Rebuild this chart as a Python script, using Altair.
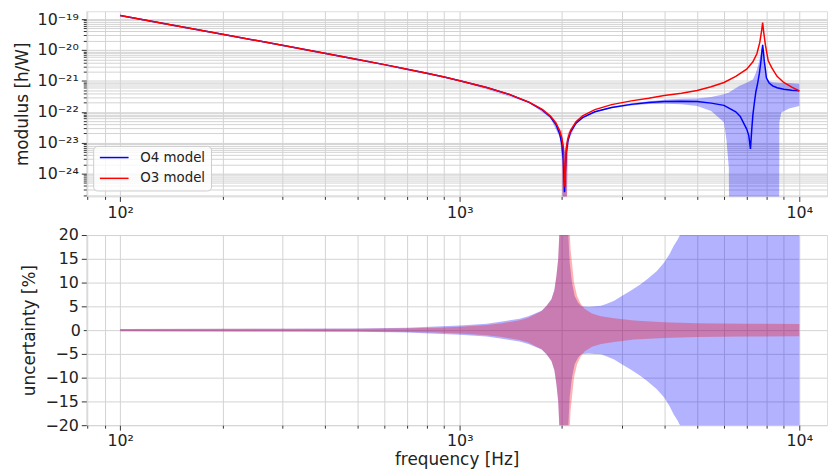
import altair as alt
import pandas as pd

FONT = "DejaVu Sans"

# ---------------- top panel: modulus [h/W] ----------------
o3_freq = [100, 150, 200, 300, 400, 500, 600, 700, 800, 900, 1000, 1200, 1400, 1600,
           1750, 1850, 1920, 1970, 2000, 2020, 2040, 2060, 2080, 2120, 2200, 2300,
           2500, 2800, 3200, 3600, 4000, 4500, 5000, 5500, 6000, 6500, 7000, 7300,
           7500, 7650, 7750, 7800, 7850, 7950, 8100, 8300, 8600, 9000, 9500, 10000]
o3_mod = [1.318e-19, 5.82e-20, 3.27e-20, 1.43e-20, 7.92e-21, 4.95e-21, 3.37e-21, 2.39e-21,
          1.76e-21, 1.33e-21, 1.02e-21, 6.14e-22, 3.68e-22, 2.07e-22, 1.20e-22, 7.24e-23,
          4.36e-23, 2.45e-23, 1.37e-23, 6.76e-24, 3.72e-25, 6.61e-24, 1.29e-23, 2.52e-23,
          4.80e-23, 7.41e-23, 1.18e-22, 1.71e-22, 2.26e-22, 2.73e-22, 3.39e-22, 3.98e-22,
          4.90e-22, 6.46e-22, 8.91e-22, 1.41e-21, 2.40e-21, 4.17e-21, 7.59e-21, 1.78e-20,
          4.47e-20, 7.76e-20, 3.98e-20, 1.41e-20, 4.47e-21, 2.63e-21, 1.41e-21, 8.91e-22,
          6.31e-22, 4.79e-22]

o4_freq = [100, 150, 200, 300, 400, 500, 600, 700, 800, 900, 1000, 1200, 1400, 1600,
           1750, 1850, 1920, 1970, 2000, 2020, 2035, 2050, 2060, 2080, 2120, 2200, 2300,
           2500, 2800, 3200, 3600, 4000, 4500, 5000, 5500, 6000, 6500, 6700, 7000, 7100,
           7180, 7245, 7300, 7375, 7450, 7544, 7630, 7710, 7760, 7800, 7840, 7887, 7950,
           8000, 8150, 8345, 8600, 9000, 9500, 10000]
o4_mod = [1.318e-19, 5.82e-20, 3.27e-20, 1.43e-20, 7.92e-21, 4.95e-21, 3.37e-21, 2.39e-21,
          1.76e-21, 1.33e-21, 1.02e-21, 6.12e-22, 3.62e-22, 2.02e-22, 1.15e-22, 6.76e-23,
          3.89e-23, 1.91e-23, 8.91e-24, 2.51e-24, 2.51e-25, 2.0e-24, 5.01e-24, 1.12e-23,
          2.24e-23, 4.27e-23, 6.46e-23, 1.0e-22, 1.38e-22, 1.74e-22, 2.0e-22, 2.14e-22,
          2.19e-22, 2.14e-22, 1.91e-22, 1.62e-22, 1.0e-22, 7.08e-23, 2.75e-23, 1.70e-23,
          6.31e-24, 2.75e-23, 7.94e-23, 2.0e-22, 4.47e-22, 8.71e-22, 1.78e-21, 4.37e-21,
          8.91e-21, 1.48e-20, 8.91e-21, 4.37e-21, 2.24e-21, 1.26e-21, 8.51e-22, 6.92e-22,
          6.03e-22, 5.37e-22, 5.01e-22, 4.79e-22]

# O4 uncertainty band on the modulus (lower edge below the axis where it is lost)
o4_band_freq = [100, 300, 1000, 1600, 1850, 1970, 2000, 2012, 2035, 2060, 2075, 2100,
                2200, 2300, 2500, 2800, 3200, 3600, 4000, 4500, 5000, 5500, 6000, 6100,
                6200, 6215, 6670, 7000, 7300, 7450, 7600, 7710, 7800, 7887, 8000, 8150,
                8345, 8720, 8735, 8850, 9330, 10000]
o4_band_lo = [1.315e-19, 1.426e-20, 1.01e-21, 1.96e-22, 6.33e-23, 1.51e-23, 3.5e-24, 1e-26,
              1e-26, 1e-26, 4e-24, 1.3e-23, 3.97e-23, 6.15e-23, 9.48e-23, 1.294e-22,
              1.60e-22, 1.79e-22, 1.84e-22, 1.75e-22, 1.55e-22, 1.07e-22, 4.57e-23,
              1.26e-23, 1.58e-24, 1e-26, 1e-26, 1e-26, 1e-26, 1e-26, 1e-26, 1e-26, 1e-26,
              1e-26, 1e-26, 1e-26, 1e-26, 1e-26, 4.57e-23, 9.55e-23, 1.29e-22, 1.55e-22]
o4_band_hi = [1.321e-19, 1.434e-20, 1.03e-21, 2.08e-22, 7.19e-23, 2.31e-23, 1.45e-23,
              1.1e-23, 5e-24, 9e-24, 1.3e-23, 2.0e-23, 4.57e-23, 6.77e-23, 1.052e-22,
              1.466e-22, 1.88e-22, 2.21e-22, 2.44e-22, 2.63e-22, 2.69e-22, 3.02e-22,
              3.72e-22, 3.98e-22, 4.17e-22, 4.27e-22, 6.92e-22, 8.71e-22, 1.12e-21,
              1.82e-21, 3.89e-21, 8.13e-21, 1.62e-20, 3.89e-21, 1.26e-21, 1.0e-21,
              9.12e-22, 8.71e-22, 8.71e-22, 8.71e-22, 8.5e-22, 8.13e-22]

# O3 uncertainty band on the modulus (only visible at the notch)
o3_band_freq = [1980, 2000, 2015, 2040, 2065, 2080, 2100]
o3_band_lo = [1.47e-23, 2.7e-24, 1e-26, 1e-26, 1e-26, 6e-24, 1.4e-23]
o3_band_hi = [2.73e-23, 2.47e-23, 1.2e-23, 1.5e-24, 1.2e-23, 2.0e-23, 2.4e-23]

# ---------------- bottom panel: uncertainty [%] (half width of the band) ----------------
o4_unc_freq = [100, 300, 500, 700, 851, 1000, 1200, 1332, 1500, 1592, 1742, 1800, 1862,
               1900, 1926, 1950, 1968, 2000, 2035, 2065, 2085, 2107, 2140, 2180, 2230,
               2280, 2400, 2500, 2606, 2700, 2850, 3000, 3187, 3400, 3563, 3800, 4000,
               4150, 4264, 4380, 4460, 4600, 5000, 6000, 7000, 8000, 9000, 10000]
o4_unc = [0.25, 0.27, 0.32, 0.5, 0.75, 0.97, 1.35, 1.8, 2.4, 2.9, 4.1, 5.1, 6.5, 8.5,
          11.4, 15, 21, 60, 250, 60, 21, 14.2, 10, 7.2, 5.8, 5.0, 4.9, 5.0, 5.1, 5.5,
          6.2, 7.2, 8.3, 9.6, 10.7, 12.4, 14.2, 16, 17.7, 19, 20.1, 22, 27, 75, 200,
          150, 85, 70]

o3_unc_freq = [100, 300, 500, 700, 851, 1000, 1200, 1332, 1500, 1592, 1742, 1800, 1862,
               1900, 1926, 1950, 1965, 2000, 2040, 2080, 2107, 2120, 2140, 2170, 2216,
               2270, 2330, 2450, 2606, 2850, 3260, 4000, 5000, 7000, 10000]
o3_unc = [0.25, 0.27, 0.3, 0.38, 0.48, 0.7, 1.1, 1.46, 2.1, 2.6, 4.0, 5.0, 6.5, 8.4,
          11.4, 15, 21, 80, 300, 50, 21, 17, 14.2, 10, 7.2, 5.6, 4.5, 3.5, 2.9, 2.5,
          2.0, 1.67, 1.46, 1.35, 1.3]

# ---------------- ticks ----------------
x_major = [100, 1000, 10000]
x_major_labels = ["10²", "10³", "10⁴"]
x_minor = [80, 90, 200, 300, 400, 500, 600, 700, 800, 900,
           2000, 3000, 4000, 5000, 6000, 7000, 8000, 9000]
y_major = [1e-24, 1e-23, 1e-22, 1e-21, 1e-20, 1e-19]
y_major_labels = ["10⁻²⁴", "10⁻²³", "10⁻²²", "10⁻²¹", "10⁻²⁰", "10⁻¹⁹"]
y_minor = [m * 10.0 ** e for e in range(-25, -19) for m in range(2, 10)]
u_ticks = [-20, -15, -10, -5, 0, 5, 10, 15, 20]

X_DOMAIN = [79.43, 12067]
Y_DOMAIN = [1.82e-25, 1.807e-19]
y_minor = [v for v in y_minor if Y_DOMAIN[0] <= v <= Y_DOMAIN[1]]


def major_test(vals):
    return " || ".join(f"abs(datum.value/{v!r}-1)<1e-6" for v in vals)


def label_expr(vals, labels):
    s = ""
    for v, l in zip(vals, labels):
        s += f"abs(datum.value/{v!r}-1)<1e-6 ? '{l}' : "
    return s + "''"


GRID = "#d2d2d2"
TICKC = "#333333"


def axis(values, majors, labels, title, tp=4):
    kw = dict(
        values=values,
        grid=True,
        gridColor=GRID,
        gridWidth=1,
        domain=False,
        tickColor=TICKC,
        tickSize={"condition": {"test": major_test(majors), "value": 5}, "value": 3},
        labelFont=FONT,
        labelFontSize=16,
        labelColor="#222222",
        labelOverlap=False,
        labelPadding=3,
        titleFont=FONT,
        titleFontSize=17,
        titleFontWeight="normal",
        titleColor="#222222",
        titlePadding=tp,
        title=title,
    )
    if labels is not None:
        kw["labelExpr"] = label_expr(majors, labels)
    return alt.Axis(**kw)


x_vals = sorted(x_major + x_minor)
y_vals = sorted(y_major + y_minor)

xscale = alt.Scale(type="log", domain=X_DOMAIN, nice=False)
yscale = alt.Scale(type="log", domain=Y_DOMAIN, nice=False)

x_top = alt.X("freq:Q", scale=xscale, axis=axis(x_vals, x_major, x_major_labels, None))
x_bot = alt.X("freq:Q", scale=xscale,
              axis=axis(x_vals, x_major, x_major_labels, "frequency [Hz]", tp=3))
y_top_axis = axis(y_vals, y_major, y_major_labels, "modulus [h/W]", tp=6)

cscale = alt.Scale(domain=["O4 model", "O3 model"], range=["#0000ff", "#ff0000"])
legend = alt.Legend(
    title=None, orient="none", legendX=7, legendY=136,
    fillColor="rgba(255,255,255,0.8)", strokeColor="#cccccc", cornerRadius=4,
    padding=5, labelFont=FONT, labelFontSize=13.5, labelColor="#222222",
    symbolType="M-1,0H4.8", symbolSize=100, symbolStrokeWidth=1.5,
    labelOffset=29, rowPadding=6,
)

df_o3 = pd.DataFrame({"freq": o3_freq, "mod": o3_mod, "series": "O3 model"})
df_o4 = pd.DataFrame({"freq": o4_freq, "mod": o4_mod, "series": "O4 model"})
df_b4 = pd.DataFrame({"freq": o4_band_freq, "lo": o4_band_lo, "hi": o4_band_hi})
df_b3 = pd.DataFrame({"freq": o3_band_freq, "lo": o3_band_lo, "hi": o3_band_hi})

band4 = alt.Chart(df_b4).mark_area(color="#0000ff", opacity=0.3, clip=True).encode(
    x=x_top, y=alt.Y("lo:Q", scale=yscale, axis=y_top_axis), y2="hi:Q")
band3 = alt.Chart(df_b3).mark_area(color="#ff0000", opacity=0.3, clip=True).encode(
    x=x_top, y=alt.Y("lo:Q", scale=yscale, axis=y_top_axis), y2="hi:Q")
line4 = alt.Chart(df_o4).mark_line(strokeWidth=1.5, clip=True).encode(
    x=x_top, y=alt.Y("mod:Q", scale=yscale, axis=y_top_axis),
    color=alt.Color("series:N", scale=cscale, legend=legend))
line3 = alt.Chart(df_o3).mark_line(strokeWidth=1.5, clip=True).encode(
    x=x_top, y=alt.Y("mod:Q", scale=yscale, axis=y_top_axis),
    color=alt.Color("series:N", scale=cscale, legend=legend))

top = alt.layer(band4, band3, line4, line3).properties(width=748, height=187)

df_u4 = pd.DataFrame({"freq": o4_unc_freq, "hi": o4_unc, "lo": [-v for v in o4_unc]})
df_u3 = pd.DataFrame({"freq": o3_unc_freq, "hi": o3_unc, "lo": [-v for v in o3_unc]})
uscale = alt.Scale(domain=[-20, 20], nice=False)
u_axis = axis(u_ticks, u_ticks, None, "uncertainty [%]", tp=6)

ub4 = alt.Chart(df_u4).mark_area(color="#0000ff", opacity=0.3, clip=True).encode(
    x=x_bot, y=alt.Y("lo:Q", scale=uscale, axis=u_axis), y2="hi:Q")
ub3 = alt.Chart(df_u3).mark_area(color="#ff0000", opacity=0.3, clip=True).encode(
    x=x_bot, y=alt.Y("lo:Q", scale=uscale, axis=u_axis), y2="hi:Q")

bottom = alt.layer(ub4, ub3).properties(width=748, height=192)

chart = alt.vconcat(top, bottom, spacing=5).properties(
    padding={"left": 4, "top": 0, "right": 0, "bottom": 0}
).configure_view(stroke="#333333", strokeWidth=1).configure(font=FONT)

chart.save("out.html", embed_options={"renderer": "svg", "actions": False})
